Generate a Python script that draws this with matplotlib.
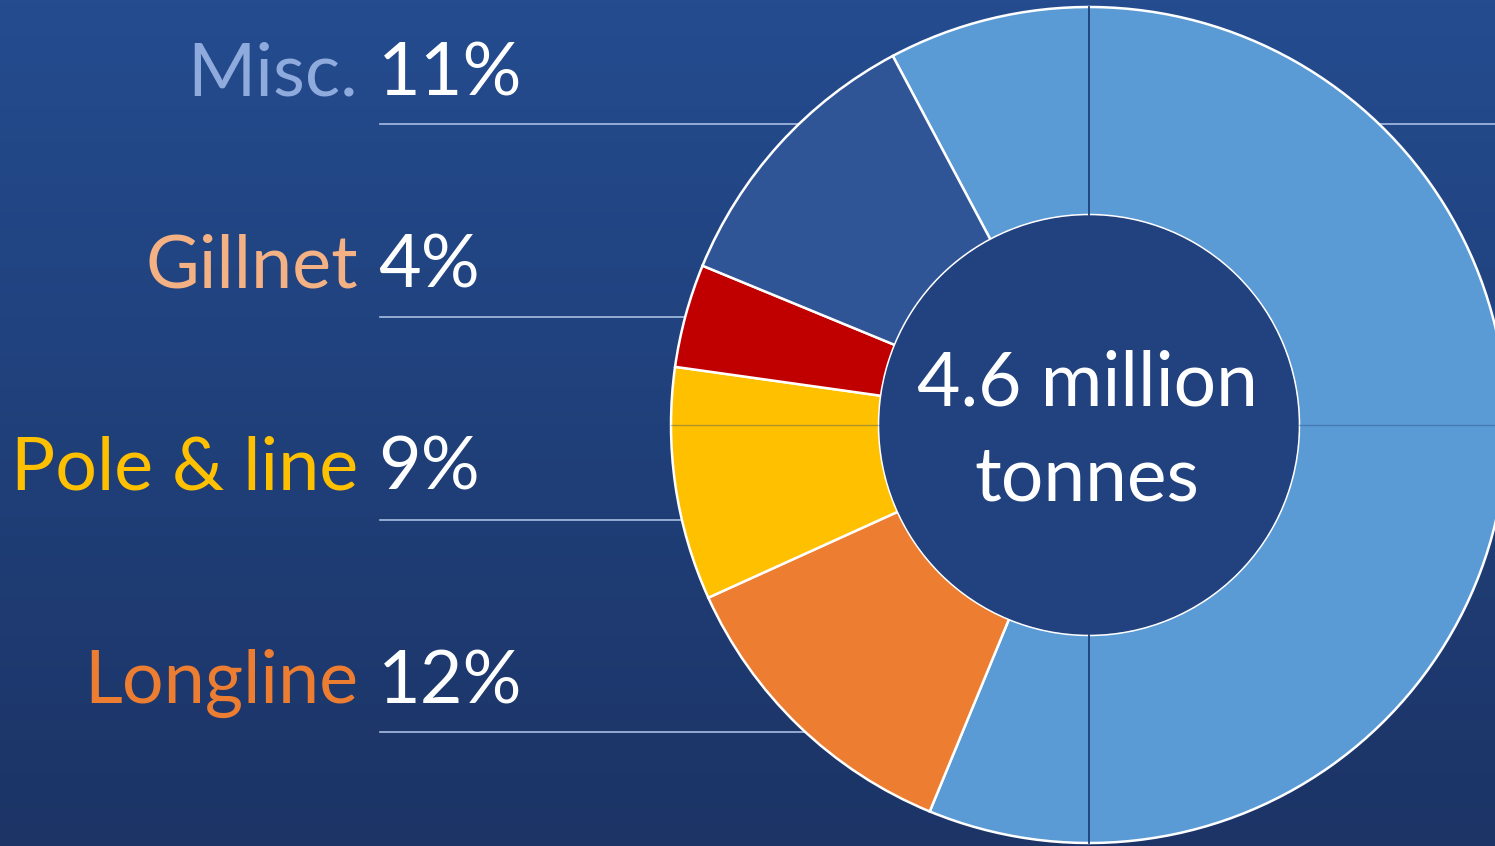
import matplotlib.pyplot as plt
import numpy as np

# data
labels = ["Purse seine", "Longline", "Pole & line", "Gillnet", "Misc."]
shares = [64, 12, 9, 4, 11]
colors = ["#5B9BD5", "#ED7D31", "#FFC000", "#C00000", "#2F5597"]

side_labels = ["Misc.", "Gillnet", "Pole & line", "Longline"]
side_pcts = ["11%", "4%", "9%", "12%"]
side_colors = ["#8FAADC", "#F4B183", "#FFC000", "#ED7D31"]
total_lines = ["4.6 million", "tonnes"]

W, H = 1495, 846
fig = plt.figure(figsize=(W / 100, H / 100), dpi=100)
ax = fig.add_axes([0, 0, 1, 1])

# background gradient
top = np.array([36, 76, 143]) / 255
bot = np.array([28, 52, 102]) / 255
t = np.linspace(0, 1, 256)[:, None]
grad = top * (1 - t) + bot * t
ax.imshow(grad[:, None, :], extent=(0, W, 0, H), aspect="auto", zorder=0)

plt.rcParams["font.family"] = ["Lato", "DejaVu Sans"]

cx, cy = 1089, H - 425
R, ring = 418, 208

# leader lines, hidden behind the donut
line_y = [124, 317, 520, 732]
for y in line_y:
    ax.plot([380, cx], [H - y, H - y], color="#A9BEE3", lw=1.2, zorder=1)
ax.plot([cx, W], [H - line_y[0], H - line_y[0]], color="#A9BEE3", lw=1.2, zorder=1)

wedges, _ = ax.pie(shares, colors=colors, startangle=118, counterclock=False,
                   center=(cx, cy), radius=R,
                   wedgeprops=dict(width=ring, edgecolor="white", linewidth=1.8))
for w in wedges:
    w.set_zorder(2)

# hole filled with background so nothing shows through
ax.add_patch(plt.Circle((cx, cy), R - ring - 1, color="#21427F", zorder=2.5))

# faint crosshair lines over the ring only
r_in = R - ring
for s in (-1, 1):
    ax.plot([cx, cx], [cy + s * r_in, cy + s * R], color="#1F3F7A", lw=1.3, zorder=3)
ax.plot([cx - R, cx - r_in], [cy, cy], color="#1F3F7A", lw=1, alpha=0.35, zorder=3)
ax.plot([cx + r_in, W], [cy, cy], color="#1F3F7A", lw=1, alpha=0.35, zorder=3)

for txt, y in zip(total_lines, [405, 500]):
    ax.text(cx - 2, H - y, txt, color="white", fontsize=54, ha="center",
            va="baseline", zorder=4)

text_y = [95, 287, 489, 703]
for lab, pct, col, y in zip(side_labels, side_pcts, side_colors, text_y):
    ax.text(358, H - y, lab, color=col, fontsize=53, ha="right",
            va="baseline", zorder=4)
    ax.text(378, H - y, pct, color="white", fontsize=53, ha="left",
            va="baseline", zorder=4)

ax.set_xlim(0, W)
ax.set_ylim(0, H)
ax.set_aspect("equal")
ax.axis("off")

fig.savefig("out.png", dpi=100)
